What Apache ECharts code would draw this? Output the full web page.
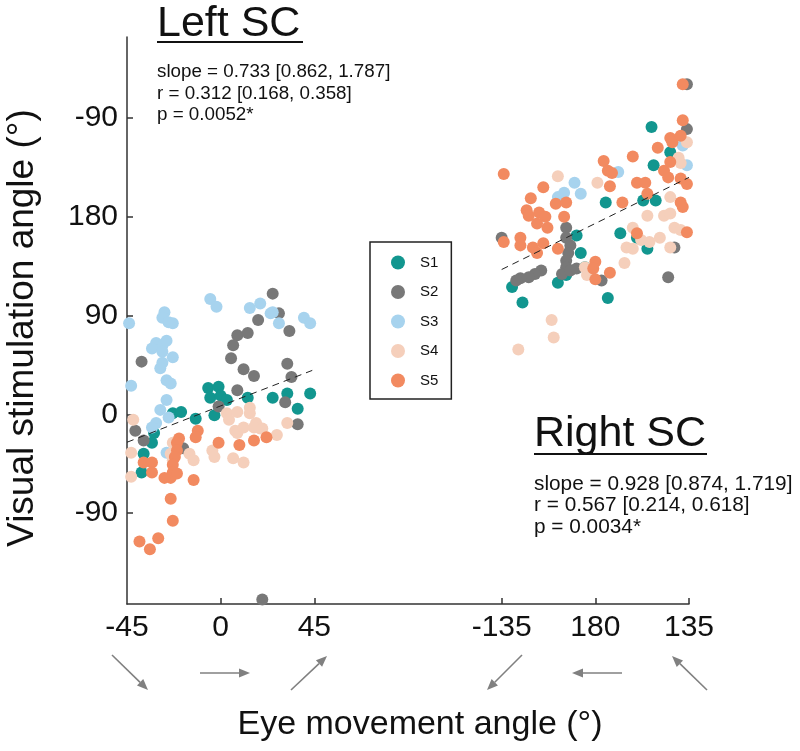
<!DOCTYPE html>
<html>
<head>
<meta charset="utf-8">
<script src="https://cdn.jsdelivr.net/npm/echarts@6/dist/echarts.min.js"></script>
<style>html,body{margin:0;padding:0;background:#fff}#c{width:800px;height:751px}</style>
</head>
<body>
<div id="c"></div>
<script>
// ---- Data (x in axis units: -45..45 left SC; 135..225 right SC, labelled -135/180/135) ----
const seriesNames = ['S1','S2','S3','S4','S5'];
const seriesColors = ['#12968f','#787878','#a7d3ee','#f5cfbb','#f28a60'];

const s1Left = [[-6,24],[-1,25],[-5,15],[0,17],[3,13],[13,15],[25,15],[32,19],[43,19],[37,5],[-3,-1],[-23,1],[-19,2],[-12,-4],[-32,-17],[-33,-26],[-37,-36],[-38,-53]];
const s1Right = [[207,262],[216,239],[208,227],[185,193],[203,195],[209,195],[171,163],[173,147],[192,165],[200,161],[205,151],[166,127],[162,120],[140,116],[145,102],[186,106],[175,134]];

const s2Left = [[25,110],[28,92],[18,86],[33,76],[8,72],[13,74],[6,63],[5,51],[-38,48],[11,41],[16,35],[32,46],[34,34],[8,22],[-1,7],[31,11],[37,-9],[-41,-15],[-37,-24],[-18,-31],[20,-169]];
const s2Right = [[224,301],[224,260],[135,161],[166,170],[166,161],[168,154],[167,147],[166,140],[154,131],[151,128],[148,125],[144,124],[142,122],[166,134],[164,128],[168,131],[171,133],[183,122],[215,125],[218,152]];

const s3Left = [[-44,83],[-27,93],[-28,88],[-25,84],[-23,83],[-5,105],[-2,98],[14,97],[19,101],[24,92],[25,93],[28,83],[40,88],[43,83],[-31,65],[-28,63],[-26,67],[-33,60],[-28,57],[-23,52],[-28,47],[-29,42],[-43,26],[-26,31],[-24,28],[-26,13],[-29,4],[-25,-3],[-31,-8],[-33,-12],[-26,-35]];
const s3Right = [[222,245],[224,227],[191,221],[170,211],[173,201],[165,202],[162,198]];

const s4Left = [[-42,-5],[3,1],[8,2],[14,6],[14,1],[4,-5],[17,-8],[19,-13],[32,-8],[27,-19],[-43,-35],[-43,-57],[-23,-26],[-24,-36],[-23,-42],[-15,-36],[-13,-42],[-4,-33],[-3,-39],[6,-40],[11,-44],[7,-15],[8,-17],[11,-12],[16,-12],[20,-13]];
const s4Right = [[162,217],[224,248],[220,234],[221,229],[181,211],[216,198],[205,181],[213,181],[216,183],[198,170],[211,161],[218,170],[221,168],[195,152],[198,151],[202,159],[206,157],[216,152],[194,138],[175,134],[176,127],[159,86],[160,70],[143,59]];

const s5Left = [[-20,-22],[-21,-26],[-21,-33],[-22,-39],[-23,-46],[-23,-53],[-24,-58],[-27,-58],[-21,-54],[-11,-15],[-12,-21],[-1,-26],[9,-28],[16,-24],[22,-21],[-37,-44],[-33,-44],[-33,-53],[-13,-60],[-24,-77],[-23,-97],[-39,-116],[-34,-123],[-30,-113]];
const s5Right = [[222,301],[222,268],[216,252],[217,248],[221,254],[210,243],[213,222],[215,216],[216,230],[198,235],[184,231],[186,222],[188,220],[187,208],[200,211],[204,211],[136,219],[149,197],[155,207],[161,192],[166,193],[193,193],[221,215],[224,210],[221,193],[222,189],[147,186],[153,184],[156,180],[148,181],[152,174],[157,170],[165,180],[144,161],[136,157],[144,154],[150,152],[155,156],[152,147],[162,151],[180,139],[179,133],[180,123],[187,129],[200,165],[224,166],[205,201]];

const fitLeft = [[-45,-25.5],[44,40]];
const fitRight = [[135,132],[225,216]];

const xTickValues = [-45,0,45,135,180,225];
const xTickLabels = ['-45','0','45','-135','180','135'];
const yTickValues = [-90,0,90,180,270];
const yTickLabels = ['-90','0','90','180','-90'];

const leftStats = ['slope = 0.733 [0.862, 1.787]','r = 0.312 [0.168, 0.358]','p = 0.0052*'];
const rightStats = ['slope = 0.928 [0.874, 1.719]','r = 0.567 [0.214, 0.618]','p = 0.0034*'];

// ---- build ----
const FONT = '"Liberation Sans", Arial, sans-serif';
const chart = echarts.init(document.getElementById('c'), null, {renderer:'canvas'});
const allData = [[s1Left,s1Right],[s2Left,s2Right],[s3Left,s3Right],[s4Left,s4Right],[s5Left,s5Right]];

const series = seriesNames.map((n,i)=>({
  name:n, type:'scatter', symbol:'circle', symbolSize:12,
  data: allData[i][0].concat(allData[i][1]),
  itemStyle:{color:seriesColors[i], opacity:1},
  z: 2+i, silent:true
}));
[fitLeft, fitRight].forEach(d=>series.push({
  type:'line', data:d, symbol:'none', z:20, silent:true,
  lineStyle:{color:'#222', width:1, type:[7,5]}
}));

function lbl(vals, labs){ return v => { const k = vals.indexOf(v); return k>=0 ? labs[k] : ''; }; }

const graphics = [];
function txt(x,y,s,size,align){
  graphics.push({type:'text', x:x, y:y, style:{text:s, font: size+'px '+FONT, fill:'#111', align:align||'left', verticalAlign:'middle'}});
}
txt(157,24,'Left SC',43);
graphics.push({type:'line', shape:{x1:157,y1:42,x2:303,y2:42}, style:{stroke:'#111', lineWidth:2}});
leftStats.forEach((s,i)=>txt(157,72+i*21.5,s,18.8));
txt(534,434,'Right SC',43);
graphics.push({type:'line', shape:{x1:534,y1:454,x2:707,y2:454}, style:{stroke:'#111', lineWidth:2}});
rightStats.forEach((s,i)=>txt(534,484+i*21.5,s,20.8));
graphics.push({type:'text', x:23, y:328, rotation:Math.PI/2, style:{text:'Visual stimulation angle (°)', font:'37px '+FONT, fill:'#111', align:'center', verticalAlign:'middle'}});
txt(420,725,'Eye movement angle (°)',34,'center');

const arrows = [[112,655,148,690],[200,673,250,673],[291,690,327,656],[522,655,487,690],[622,673,572,673],[707,690,672,656]];
arrows.forEach(a=>{
  const [x1,y1,x2,y2]=a; const dx=x2-x1, dy=y2-y1, L=Math.hypot(dx,dy), ux=dx/L, uy=dy/L;
  const hl=11, hw=4.5; const bx=x2-ux*hl, by=y2-uy*hl;
  graphics.push({type:'line', shape:{x1:x1,y1:y1,x2:bx,y2:by}, style:{stroke:'#808080', lineWidth:1.6}});
  graphics.push({type:'polygon', shape:{points:[[x2,y2],[bx-uy*hw,by+ux*hw],[bx+uy*hw,by-ux*hw]]}, style:{fill:'#808080'}});
});

chart.setOption({
  animation:false,
  backgroundColor:'#fff',
  grid:{left:127, right:111, top:37, bottom:147, containLabel:false},
  legend:{
    data:seriesNames, orient:'vertical', left:370, top:242,
    padding:[13,13,11,21], itemWidth:14, itemHeight:14, itemGap:14.5, icon:'circle',
    borderColor:'#222', borderWidth:1.5,
    textStyle:{fontSize:15, fontFamily:FONT, color:'#111', padding:[0,0,0,10]}
  },
  xAxis:{
    type:'value', min:-45, max:225,
    axisLine:{show:true, onZero:false, lineStyle:{color:'#333', width:1.5}},
    axisTick:{show:true, inside:true, length:6, customValues:[0,45,135,180,225], lineStyle:{color:'#333', width:1.5}},
    axisLabel:{customValues:xTickValues, formatter:lbl(xTickValues,xTickLabels), fontSize:30, fontFamily:FONT, color:'#111', margin:9},
    splitLine:{show:false}
  },
  yAxis:{
    type:'value', min:-173, max:344,
    axisLine:{show:true, onZero:false, lineStyle:{color:'#333', width:1.5}},
    axisTick:{show:true, inside:true, length:6, customValues:yTickValues, lineStyle:{color:'#333', width:1.5}},
    axisLabel:{customValues:yTickValues, formatter:lbl(yTickValues,yTickLabels), fontSize:30, fontFamily:FONT, color:'#111', margin:9},
    splitLine:{show:false}
  },
  series:series,
  graphic:graphics
});
</script>
</body>
</html>
